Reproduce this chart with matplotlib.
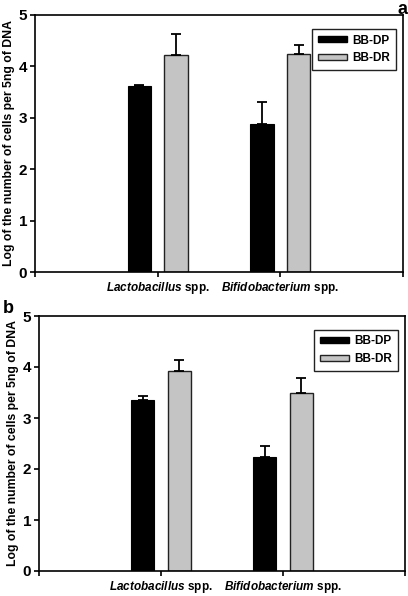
import matplotlib
matplotlib.use('Agg')
import matplotlib.pyplot as plt
from matplotlib.patches import Patch

plt.rcParams['font.family'] = ['Liberation Sans', 'DejaVu Sans']
plt.rcParams['font.weight'] = 'bold'
plt.rcParams['mathtext.fontset'] = 'custom'
plt.rcParams['mathtext.it'] = 'Liberation Sans:bold:italic'
plt.rcParams['mathtext.rm'] = 'Liberation Sans:bold'

# data
categories = [r'$\mathit{Lactobacillus}$ spp.', r'$\mathit{Bifidobacterium}$ spp.']
series = ['BB-DP', 'BB-DR']
a_dp = [3.61, 2.88]
a_dp_err = [0.02, 0.42]
a_dr = [4.23, 4.25]
a_dr_err = [0.41, 0.16]
b_dp = [3.35, 2.23]
b_dp_err = [0.09, 0.23]
b_dr = [3.92, 3.50]
b_dr_err = [0.21, 0.29]

ylabel = 'Log of the number of cells per 5ng of DNA'

fig = plt.figure(figsize=(4.08, 5.96), dpi=100)
ax_a = fig.add_axes([35/408, 324/596, 368/408, 257/596])
ax_b = fig.add_axes([39/408, 25/596, 366/408, 255/596])


def draw_panel(ax, dp, dp_err, dr, dr_err):
    pos = [1, 2]
    w = 0.19
    ax.bar([p - 0.15 for p in pos], dp, w, color='black', edgecolor='black',
           linewidth=0.8, yerr=[[0, 0], dp_err], capsize=3.5,
           error_kw=dict(elinewidth=1.3, capthick=1.3, ecolor='black'))
    ax.bar([p + 0.15 for p in pos], dr, w, color='#c4c4c4', edgecolor='#222222',
           linewidth=1.0, yerr=[[0, 0], dr_err], capsize=3.5,
           error_kw=dict(elinewidth=1.3, capthick=1.3, ecolor='black'))
    ax.set_xlim(0, 3)
    ax.set_ylim(0, 5)
    ax.set_xticks([0, 1, 2, 3])
    ax.set_xticklabels([''] + categories + [''], fontsize=8.5, fontweight='bold')
    ax.set_yticks([0, 1, 2, 3, 4, 5])
    ax.set_yticklabels(['0', '1', '2', '3', '4', '5'], fontsize=11, fontweight='bold')
    ax.tick_params(axis='both', direction='out', length=3.5, width=1.2)
    ax.tick_params(axis='x', pad=2.5)
    ax.tick_params(axis='y', pad=2)
    for s in ax.spines.values():
        s.set_linewidth(1.2)
    ax.set_ylabel(ylabel, fontsize=8.8, fontweight='bold', labelpad=3)
    handles = [Patch(facecolor='black', edgecolor='black'),
               Patch(facecolor='#c4c4c4', edgecolor='#222222')]
    leg = ax.legend(handles, series, loc='upper right', fontsize=8.5,
                    fancybox=False, framealpha=1, edgecolor='#222222',
                    handlelength=2.5, handleheight=0.4, borderpad=0.5,
                    labelspacing=0.5, handletextpad=0.4,
                    bbox_to_anchor=(0.997, 0.97))
    leg.get_frame().set_linewidth(1.0)
    for t in leg.get_texts():
        t.set_fontweight('bold')


draw_panel(ax_a, a_dp, a_dp_err, a_dr, a_dr_err)
draw_panel(ax_b, b_dp, b_dp_err, b_dr, b_dr_err)

fig.text(0.998, 0.999, 'a', ha='right', va='top', fontsize=13, fontweight='bold')
fig.text(0.008, 0.497, 'b', ha='left', va='top', fontsize=13, fontweight='bold')

fig.savefig('out.png', dpi=100)
